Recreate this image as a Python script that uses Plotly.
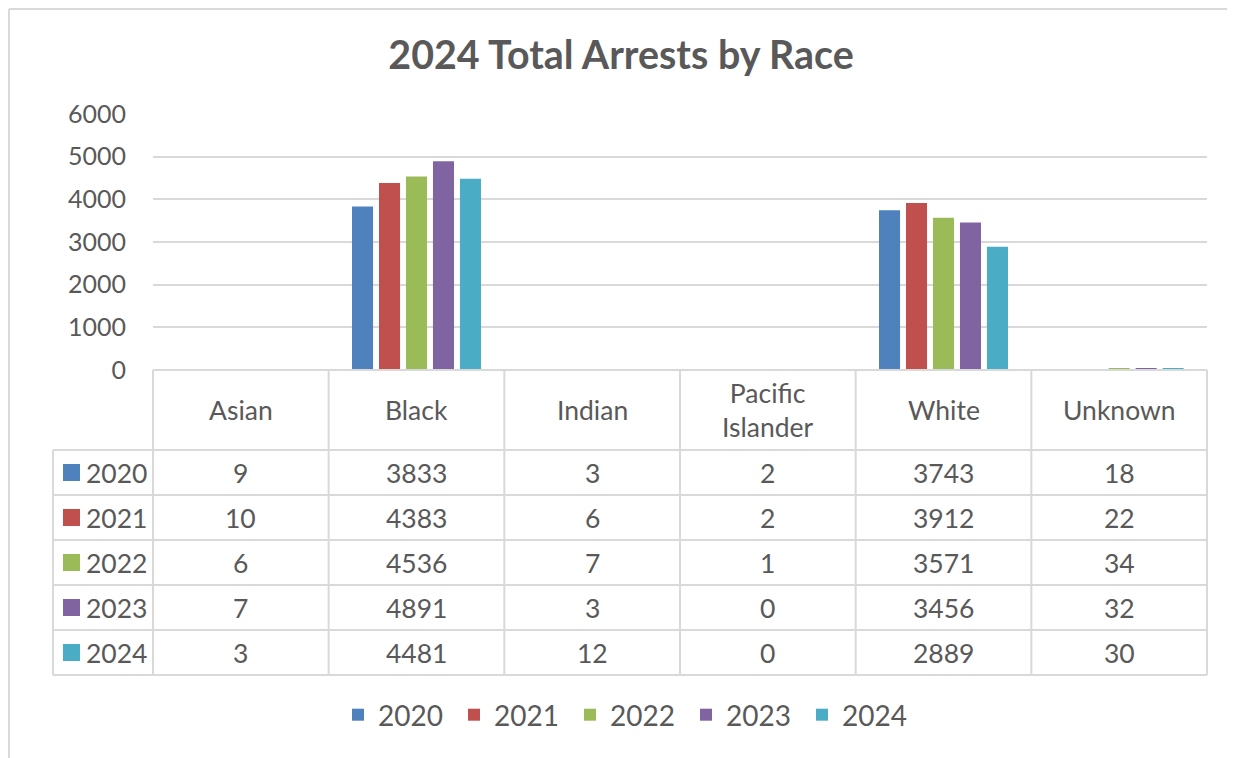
import plotly.graph_objects as go

categories = ["Asian", "Black", "Indian", "Pacific Islander", "White", "Unknown"]
header_labels = ["Asian", "Black", "Indian", "Pacific<br>Islander", "White", "Unknown"]
years = ["2020", "2021", "2022", "2023", "2024"]
arrests_2020 = [9, 3833, 3, 2, 3743, 18]
arrests_2021 = [10, 4383, 6, 2, 3912, 22]
arrests_2022 = [6, 4536, 7, 1, 3571, 34]
arrests_2023 = [7, 4891, 3, 0, 3456, 32]
arrests_2024 = [3, 4481, 12, 0, 2889, 30]
y_ticks = [0, 1000, 2000, 3000, 4000, 5000, 6000]

series = [arrests_2020, arrests_2021, arrests_2022, arrests_2023, arrests_2024]
colors = ["#4f81bd", "#c0504d", "#9bbb59", "#8064a2", "#4bacc6"]

# the page body adds an 8px margin, so the figure starts at (8, 8) on screen
OFF = 8
W, H = 1235 - OFF, 758 - OFF
L, R, T, B = 153, 1207, 114, 370  # plot area, screen pixels
FONT = "Lato, 'Open Sans', sans-serif"
GREY = "#595959"
LINE = "#d9d9d9"


def px(x):
    return (x - L) / (R - L)


def py(y):
    return (B - y) / (B - T)


fig = go.Figure()
for yr, vals, c in zip(years, series, colors):
    fig.add_trace(go.Bar(x=categories, y=vals, name=yr, marker=dict(color=c, line=dict(width=0))))

shapes = []
annotations = []

# data table grid
row_edges = [450, 495, 540, 585, 630, 675]
col_edges = [L + i * (R - L) / 6 for i in range(7)]
shapes.append(dict(type="line", xref="paper", yref="paper", x0=px(L), x1=px(R), y0=py(B), y1=py(B)))
for y in row_edges:
    shapes.append(dict(type="line", xref="paper", yref="paper", x0=px(53), x1=px(R), y0=py(y), y1=py(y)))
for x in col_edges:
    shapes.append(dict(type="line", xref="paper", yref="paper", x0=px(x), x1=px(x), y0=py(B), y1=py(675)))
shapes.append(dict(type="line", xref="paper", yref="paper", x0=px(53), x1=px(53), y0=py(450), y1=py(675)))
for s in shapes:
    s["line"] = dict(color=LINE, width=2)

# outer chart border (left + top)
shapes.append(dict(type="line", xref="paper", yref="paper", x0=px(9), x1=px(9), y0=py(9), y1=py(760),
                   line=dict(color=LINE, width=2)))
shapes.append(dict(type="line", xref="paper", yref="paper", x0=px(9), x1=px(1240), y0=py(9), y1=py(9),
                   line=dict(color=LINE, width=2)))

TFONT = dict(size=26.5, color=GREY, family=FONT)

# header row
for cat, lab in zip(categories, header_labels):
    annotations.append(dict(x=cat, xref="x", y=py(410), yref="paper", text=lab, showarrow=False,
                            xanchor="center", yanchor="middle", font=TFONT))

# value rows + row labels with colour keys
for i, (yr, vals, c) in enumerate(zip(years, series, colors)):
    yc = (row_edges[i] + row_edges[i + 1]) / 2
    for cat, v in zip(categories, vals):
        annotations.append(dict(x=cat, xref="x", y=py(yc), yref="paper", text=str(v), showarrow=False,
                                xanchor="center", yanchor="middle", font=TFONT))
    annotations.append(dict(x=px(149), xref="paper", y=py(yc), yref="paper", text=yr, showarrow=False,
                            xanchor="right", yanchor="middle", font=TFONT))
    shapes.append(dict(type="rect", xref="paper", yref="paper", x0=px(63), x1=px(80),
                       y0=py(yc - 8.5), y1=py(yc + 8.5), fillcolor=c, line=dict(width=0)))

fig.update_layout(
    width=W, height=H,
    margin=dict(l=L - OFF, r=W + OFF - R, t=T - OFF, b=H + OFF - B, autoexpand=False),
    paper_bgcolor="white", plot_bgcolor="white",
    title=dict(text="<b>2024 Total Arrests by Race</b>", xref="container", x=(621 - OFF) / W,
               xanchor="center", y=1 - (55 - OFF) / H, yanchor="middle",
               font=dict(size=39.4, color=GREY, family=FONT)),
    font=dict(family=FONT, color=GREY),
    barmode="group", bargap=0.232, bargroupgap=0.22,
    xaxis=dict(showticklabels=False, showline=False, showgrid=False, zeroline=False, ticks=""),
    yaxis=dict(range=[0, 6000], tickvals=y_ticks, showgrid=True, gridcolor=LINE, gridwidth=2,
               zeroline=False, showline=False, ticks="", ticklabelstandoff=26,
               tickfont=dict(size=25, color=GREY, family=FONT)),
    legend=dict(orientation="h", x=px(628), xanchor="center", y=py(715), yanchor="middle",
                entrywidth=71, entrywidthmode="pixels",
                font=dict(size=28, color=GREY, family=FONT), itemclick=False),
    shapes=shapes,
    annotations=annotations,
)

fig.write_html("out.html")
